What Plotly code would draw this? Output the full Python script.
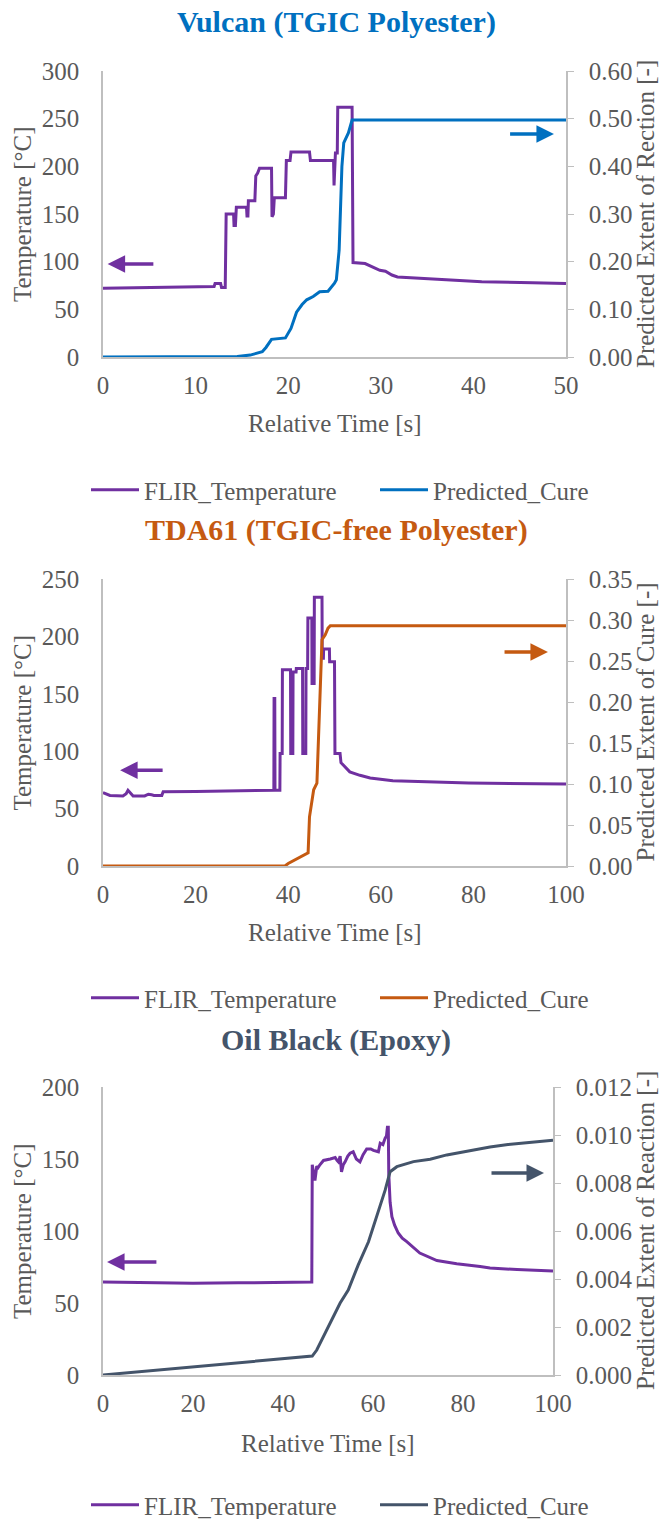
import plotly.graph_objects as go

W, H = 665, 1519

# ---------------- data ----------------
# Vulcan (TGIC Polyester)
vul_temp_t = [0, 12, 12.1, 12.7, 12.8, 13.2, 13.3, 14.1, 14.15, 14.3, 14.4, 15.5, 15.55, 15.65, 15.7,
              16.4, 16.5, 16.7, 16.9, 18.2, 18.25, 18.4, 18.5, 19.7, 19.8, 20.2, 20.3, 22.3, 22.4,
              24.9, 24.95, 25.1, 25.3, 25.35, 26.9, 27.0, 28.3, 29.0, 29.9, 30.5, 31.2, 31.8, 33.5,
              37.2, 40.9, 46.4, 50]
vul_temp = [72, 74, 77, 77, 73, 73, 150, 150, 138, 138, 157, 157, 148, 148, 164,
            164, 190, 193, 198, 198, 147, 150, 167, 167, 206, 206, 215, 215, 206,
            206, 180, 214, 214, 262, 262, 99, 98, 95, 91, 90, 86, 84, 83,
            81, 79, 78, 77]
vul_cure_t = [0, 13, 14.5, 15.9, 17.2, 17.6, 18.2, 19.7, 20.3, 20.9, 21.5, 22, 22.7, 23.4, 24.3,
              25.0, 25.2, 25.5, 25.8, 26.0, 26.5, 26.9, 50]
vul_cure = [0, 0, 0.001, 0.004, 0.011, 0.02, 0.037, 0.04, 0.06, 0.094, 0.11, 0.12, 0.127, 0.137, 0.138,
            0.155, 0.162, 0.224, 0.40, 0.449, 0.47, 0.497, 0.497]

# TDA61 (TGIC-free Polyester)
tda_temp_t = [0, 1.5, 4.3, 5, 5.4, 6.2, 6.5, 9, 9.8, 10.5, 11, 12.7, 13, 20, 30, 36.9, 36.95, 37.1,
              37.15, 38.2, 38.25, 38.7, 38.75, 40.5, 40.55, 41.0, 41.05, 41.7, 41.75, 43.1, 43.15,
              43.8, 43.85, 44.2, 44.25, 45.1, 45.15, 45.6, 45.65, 47.3, 47.35, 47.6, 47.65, 48.9,
              48.95, 50.0, 50.1, 51.2, 51.4, 53.3, 55.5, 57.7, 62.6, 68.5, 79, 100]
tda_temp = [64, 61.5, 61, 63, 66, 62, 61, 61, 62.5, 62, 61.5, 61.5, 64.7, 65, 65.5, 66, 146, 146,
            66, 66, 98, 98, 171, 171, 98, 98, 169, 169, 172, 172, 98,
            98, 172, 172, 216, 216, 159, 159, 234, 234, 181, 181, 189, 189,
            178, 178, 98, 98, 90, 82, 79, 76.6, 74.3, 73.4, 72.3, 71.4]
tda_cure_t = [0, 39.3, 40.0, 40.7, 41.9, 43, 44.3, 44.6, 45.1, 45.5, 46.2, 46.9, 47.3, 48, 48.6, 49.1, 100]
tda_cure = [0, 0, 0.003, 0.005, 0.0085, 0.012, 0.016, 0.06, 0.08, 0.093, 0.101, 0.215, 0.276, 0.282,
            0.29, 0.293, 0.293]

# Oil Black (Epoxy)
oil_temp_t = [0, 10, 20, 30, 46.4, 46.5, 46.8, 47.1, 47.5, 47.8, 48.2, 49, 50.5, 51.6, 52, 52.3, 52.7,
              53.0, 53.4, 53.8, 54.4, 54.9, 55.6, 56.3, 57.1, 57.8, 58.6, 59.5, 60.1, 61.2, 61.6,
              62.2, 62.7, 63.0, 63.2, 63.4, 63.5, 63.8, 64.2, 64.8, 65.6, 66.5, 67.5, 70.4, 74.2,
              77.1, 78.6, 83.8, 86, 92, 100]
oil_temp = [64.5, 64, 63.7, 64, 64.5, 146, 140, 135, 145, 144, 146, 149, 150, 151, 149, 148, 152,
            141, 146, 148, 152, 154, 155, 150, 148, 153, 157, 157, 156, 155, 161,
            160, 164.5, 166, 172, 172, 140, 120, 110, 104, 98.6, 95, 92.6, 84.7, 79.5,
            78, 77.2, 75.4, 74.3, 73.2, 72.2]
oil_cure_t = [0, 10, 20, 30, 40, 46.5, 47.5, 50.4, 52.7, 54.5, 56.7, 59, 61.2, 62.7, 63.8, 65.3, 69,
              72.7, 76.4, 80, 83.8, 86, 90, 95, 100]
oil_cure = [0, 0.00017, 0.00034, 0.0005, 0.00067, 0.00079, 0.00104, 0.00216, 0.003, 0.00354, 0.00458,
            0.00555, 0.0068, 0.0077, 0.00847, 0.00868, 0.00889, 0.00899, 0.00917, 0.0093, 0.00945,
            0.0095, 0.0096, 0.0097, 0.00978]

titles = ["Vulcan (TGIC Polyester)", "TDA61 (TGIC-free Polyester)", "Oil Black (Epoxy)"]
right_titles = ["Predicted Extent of Rection [-]", "Predicted Extent of Cure [-]",
                "Predicted Extent of Reaction [-]"]
series_names = ["FLIR_Temperature", "Predicted_Cure"]

# ---------------- style ----------------
PURPLE = "#7030A0"
cure_colors = ["#0070C0", "#C55A11", "#44546A"]
FONT = "Times New Roman, Liberation Serif, DejaVu Serif, serif"
GREY = "#595959"
AXC = "#BFBFBF"
FS = 25

def px(x):
    return x / W

def py(y):
    return 1 - y / H

# plot-area pixel boxes: (left, right, top, bottom)
boxes = [(103, 566, 71, 357), (103, 566, 579, 866), (103, 553, 1087, 1375)]
xranges = [[0, 50], [0, 100], [0, 100]]
xdticks = [10, 20, 20]
yranges = [[0, 300], [0, 250], [0, 200]]
ydticks = [50, 50, 50]
y2ranges = [[0, 0.6], [0, 0.35], [0, 0.012]]
y2dticks = [0.1, 0.05, 0.002]
y2fmt = [".2f", ".2f", ".3f"]

data = [
    (vul_temp_t, vul_temp, vul_cure_t, vul_cure),
    (tda_temp_t, tda_temp, tda_cure_t, tda_cure),
    (oil_temp_t, oil_temp, oil_cure_t, oil_cure),
]

fig = go.Figure()
layout = dict(width=W, height=H, margin=dict(l=0, r=0, t=0, b=0, autoexpand=False),
              paper_bgcolor="white", plot_bgcolor="white",
              font=dict(family=FONT, size=FS, color=GREY), showlegend=True)
annotations = []

legend_y = [490, 998, 1505]
title_y = [22, 530, 1040]
xtitle_y = [423, 932, 1443]

for i in range(3):
    l, r, t, b = boxes[i]
    xa = "x" if i == 0 else f"x{i+1}"
    ya = f"y{2*i+1}" if i > 0 else "y"
    ya2 = f"y{2*i+2}"
    legname = "legend" if i == 0 else f"legend{i+1}"
    tt, tv, ct, cv = data[i]
    fig.add_trace(go.Scatter(x=tt, y=tv, mode="lines", name=series_names[0],
                             line=dict(color=PURPLE, width=3), xaxis=xa, yaxis=ya, legend=legname))
    fig.add_trace(go.Scatter(x=ct, y=cv, mode="lines", name=series_names[1],
                             line=dict(color=cure_colors[i], width=3), xaxis=xa, yaxis=ya2, legend=legname))

    xkey = "xaxis" if i == 0 else f"xaxis{i+1}"
    ykey = "yaxis" if i == 0 else f"yaxis{2*i+1}"
    y2key = f"yaxis{2*i+2}"
    tf = dict(family=FONT, size=FS, color=GREY)
    layout[xkey] = dict(domain=[px(l), px(r)], range=xranges[i], dtick=xdticks[i], anchor=ya,
                        showline=True, linecolor=AXC, linewidth=1.5, showgrid=False, zeroline=False,
                        ticks="", ticklabelstandoff=5, tickfont=tf, automargin=False)
    layout[ykey] = dict(domain=[py(b), py(t)], range=yranges[i], dtick=ydticks[i], anchor=xa,
                        showline=True, linecolor=AXC, linewidth=1.5, showgrid=False, zeroline=False,
                        ticks="", ticklabelstandoff=17, tickfont=tf, automargin=False)
    layout[y2key] = dict(domain=[py(b), py(t)], range=y2ranges[i], dtick=y2dticks[i], anchor=xa,
                         overlaying=ya, side="right", tickformat=y2fmt[i],
                         showline=True, linecolor=AXC, linewidth=1.5, showgrid=False, zeroline=False,
                         ticks="outside", ticklen=6, tickcolor=AXC, ticklabelstandoff=10,
                         tickfont=tf, automargin=False)

    layout[legname] = dict(orientation="h", x=px(86), xanchor="left", y=py(legend_y[i]), yanchor="middle",
                           entrywidth=226, entrywidthmode="pixels", bgcolor="rgba(0,0,0,0)",
                           font=tf, itemwidth=48, tracegroupgap=0)

    # chart title
    annotations.append(dict(text="<b>" + titles[i] + "</b>", xref="paper", yref="paper",
                            x=px(336), y=py(title_y[i]), xanchor="center", yanchor="middle",
                            showarrow=False, font=dict(family=FONT, size=30, color=cure_colors[i])))
    # axis titles
    annotations.append(dict(text="Relative Time [s]", xref="paper", yref="paper",
                            x=px((l + r) / 2), y=py(xtitle_y[i]), xanchor="center", yanchor="middle",
                            showarrow=False, font=tf))
    annotations.append(dict(text="Temperature [°C]", xref="paper", yref="paper", textangle=-90,
                            x=px(22), y=py((t + b) / 2), xanchor="center", yanchor="middle",
                            showarrow=False, font=tf))
    annotations.append(dict(text=right_titles[i], xref="paper", yref="paper", textangle=-90,
                            x=px(645), y=py((t + b) / 2), xanchor="center", yanchor="middle",
                            showarrow=False, font=tf))

# direction arrows (tip, tail) in data coordinates of each panel's temperature axis
arrows = [
    ("x", "y", 0.5, 97.5, 5.6, PURPLE),
    ("x", "y", 48.7, 234, 43.8, cure_colors[0]),
    ("x2", "y3", 3.7, 83.5, 13.2, PURPLE),
    ("x2", "y3", 96.1, 186.4, 86.4, cure_colors[1]),
    ("x3", "y5", 0.9, 78.5, 12.2, PURPLE),
    ("x3", "y5", 98.0, 140.3, 86.0, cure_colors[2]),
]
for xr, yr, x0, y0, xt, col in arrows:
    annotations.append(dict(x=x0, y=y0, ax=xt, ay=y0, xref=xr, yref=yr, axref=xr, ayref=yr,
                            text="", showarrow=True, arrowhead=2, arrowsize=1.0, arrowwidth=3.5,
                            arrowcolor=col))

layout["annotations"] = annotations
fig.update_layout(**layout)
fig.write_html("out.html")
